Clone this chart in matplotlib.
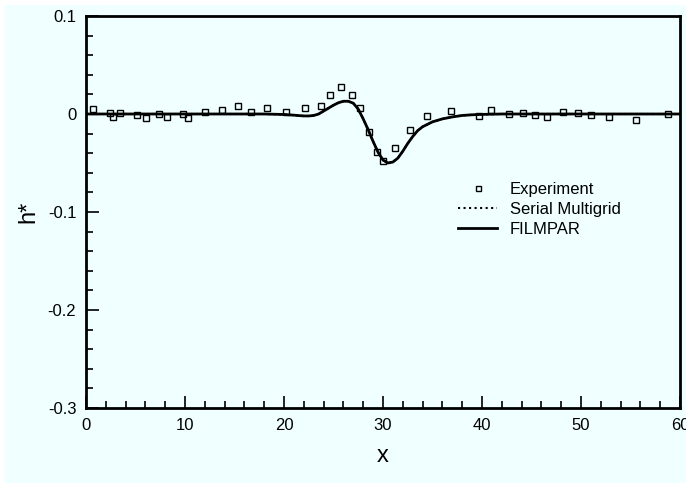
import matplotlib
matplotlib.use("Agg")
import matplotlib.pyplot as plt
from matplotlib.patches import Rectangle
from matplotlib.ticker import MultipleLocator

plt.rcParams['font.family'] = ['Liberation Sans', 'DejaVu Sans']

# Experimental data
exp_x = [0.68, 2.42, 2.69, 3.43, 5.2, 6.1, 7.4, 8.15, 9.76, 10.3, 12.0, 13.7,
         15.35, 16.7, 18.3, 20.2, 22.1, 23.7, 24.6, 25.8, 26.9, 27.7, 28.55,
         29.4, 30.0, 31.2, 32.7, 34.4, 36.9, 39.7, 40.9, 42.7, 44.1, 45.4,
         46.6, 48.2, 49.7, 51.0, 52.8, 55.6, 58.8]
exp_y = [0.0048, 0.0007, -0.0027, 0.0007, -0.001, -0.0037, 0.0, -0.0027, 0.0,
         -0.0037, 0.0017, 0.0037, 0.0078, 0.0017, 0.0058, 0.0017, 0.0058,
         0.0078, 0.0197, 0.028, 0.0197, 0.0064, -0.0184, -0.039, -0.0477,
         -0.035, -0.0163, -0.0024, 0.0027, -0.0024, 0.0044, 0.0, 0.0007,
         -0.0014, -0.0034, 0.0017, 0.0007, -0.0014, -0.0034, -0.0061, 0.0]

# Simulation curves
sim_x = [0, 5, 10, 15, 18, 20, 21, 22, 22.5, 23, 23.5, 24, 24.5, 25, 25.5, 26,
         26.5, 27, 27.5, 28, 28.5, 29, 29.5, 30, 30.5, 31, 31.5, 32, 32.5, 33,
         33.5, 34, 35, 36, 37, 38, 39, 40, 42, 45, 50, 55, 60]
filmpar_y = [0, 0, 0, 0, 0, -0.0005, -0.0012, -0.002, -0.002, -0.0015, 0.0,
             0.003, 0.006, 0.009, 0.0115, 0.013, 0.013, 0.011, 0.005, -0.005,
             -0.016, -0.028, -0.039, -0.047, -0.050, -0.049, -0.045, -0.038,
             -0.030, -0.023, -0.017, -0.013, -0.008, -0.005, -0.003, -0.0015,
             -0.0008, -0.0004, 0, 0, 0, 0, 0]
serial_y = list(filmpar_y)

W, H = 686, 486
fig = plt.figure(figsize=(W / 100, H / 100), dpi=100, facecolor='white')
fig.patches.append(Rectangle((5 / W, 3 / H), 1 - 5 / W, 1 - 8 / H,
                             transform=fig.transFigure, facecolor='#f0ffff',
                             edgecolor='none', zorder=-10))
ax = fig.add_axes([86 / W, (H - 408) / H, (680 - 86) / W, (408 - 16) / H])
ax.set_facecolor('#f0ffff')

ax.plot(sim_x, serial_y, linestyle=':', color='black', lw=1.5,
        label='Serial Multigrid', zorder=2)
ax.plot(sim_x, filmpar_y, linestyle='-', color='black', lw=2.0,
        label='FILMPAR', zorder=3)
ax.plot(exp_x, exp_y, linestyle='none', marker='s', markersize=4.5,
        markerfacecolor='none', markeredgecolor='black', markeredgewidth=1.0,
        label='Experiment', zorder=4)

ax.set_xlim(0, 60)
ax.set_ylim(-0.3, 0.1)
ax.xaxis.set_major_locator(MultipleLocator(10))
ax.xaxis.set_minor_locator(MultipleLocator(2))
ax.yaxis.set_major_locator(MultipleLocator(0.1))
ax.yaxis.set_minor_locator(MultipleLocator(0.02))
ax.set_xticks([0, 10, 20, 30, 40, 50, 60])
ax.set_xticklabels(['0', '10', '20', '30', '40', '50', '60'])
ax.set_yticks([0.1, 0, -0.1, -0.2, -0.3])
ax.set_yticklabels(['0.1', '0', '-0.1', '-0.2', '-0.3'])

ax.tick_params(which='both', direction='in', top=False, right=False,
               labelsize=12, pad=7, width=1.2)
ax.tick_params(which='major', length=9)
ax.tick_params(which='minor', length=5)
for s in ax.spines.values():
    s.set_linewidth(2.0)

ax.set_xlabel('x', fontsize=17, labelpad=9)
ax.set_ylabel('h*', fontsize=17, labelpad=6)

handles, labels = ax.get_legend_handles_labels()
order = [2, 0, 1]
ax.legend([handles[i] for i in order], [labels[i] for i in order],
          loc='upper left', bbox_to_anchor=(458 / W, 1 - 182 / H),
          bbox_transform=fig.transFigure, frameon=False, fontsize=12,
          handlelength=2.35, handletextpad=0.75, labelspacing=0.3,
          borderpad=0, borderaxespad=0, markerscale=0.8)

fig.savefig('out.png', dpi=100, facecolor=fig.get_facecolor())
